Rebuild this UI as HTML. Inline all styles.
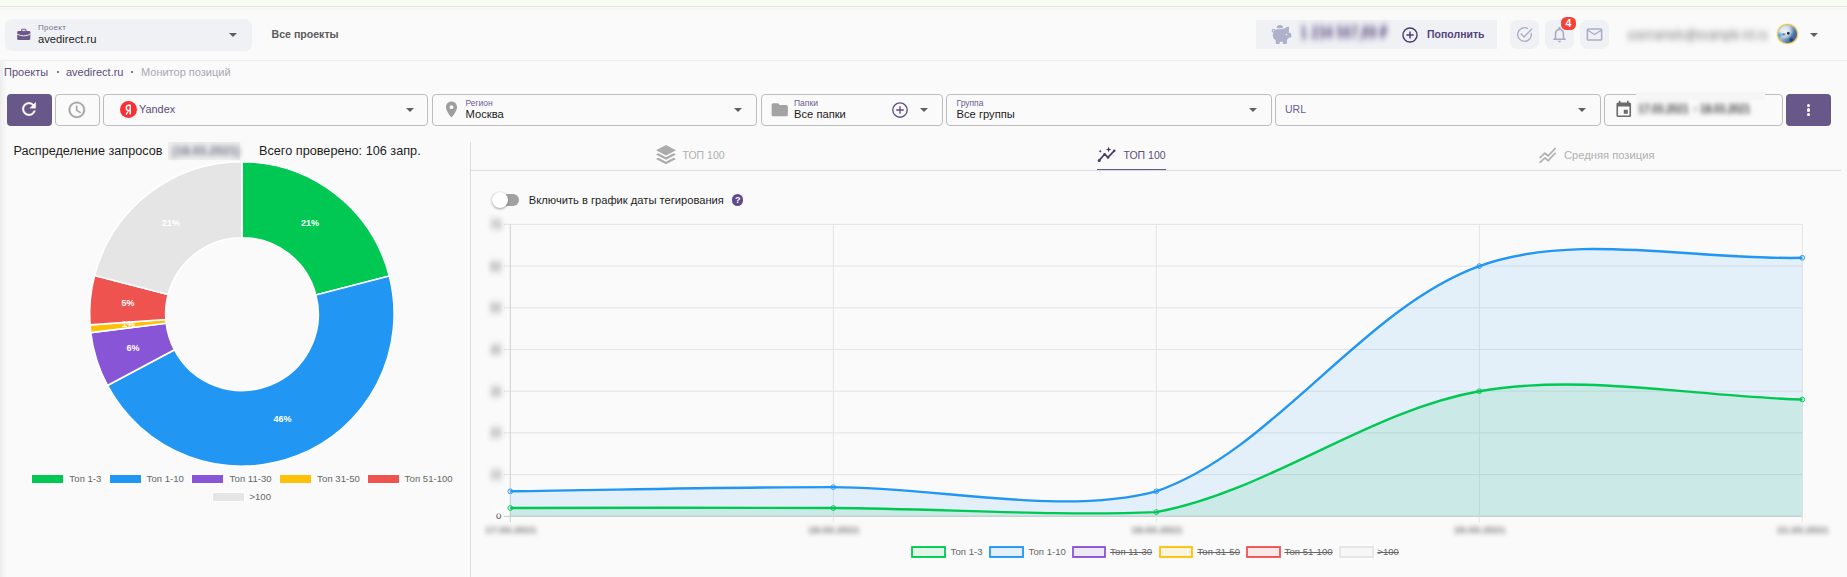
<!DOCTYPE html>
<html lang="ru">
<head>
<meta charset="utf-8">
<title>Монитор позиций</title>
<style>
*{box-sizing:border-box;margin:0;padding:0}
html,body{width:1847px;height:577px;overflow:hidden;background:#fafafa}
body{font-family:"Liberation Sans",sans-serif;color:#222;position:relative}
.abs{position:absolute}
.t{position:absolute;white-space:nowrap;line-height:1}
#strip{left:0;top:0;width:1847px;height:7px;background:#f8fbf1;border-bottom:1px solid #e3e7da}
#stripsh{left:0;top:8px;width:1847px;height:3px;background:linear-gradient(#f3f3f3,#fafafa)}
#leftsh{left:0;top:61px;width:8px;height:516px;background:linear-gradient(90deg,#ececec,#f4f4f4 45%,#fafafa)}
#hdrline{left:0;top:60px;width:1847px;height:1px;background:#eeeeee}
.box{position:absolute;border:1px solid #bdbdbd;border-radius:4px;background:#fafafa}
.pbtn{position:absolute;background:#685889;border-radius:4px}
.soft{position:absolute;background:#f0f1f5}
.lab{font-size:8.5px;color:#6a5a93}
.val{font-size:11.2px;color:#222}
.arrow{position:absolute;width:0;height:0;border-left:4px solid transparent;border-right:4px solid transparent;border-top:4px solid #5f5f5f}
.leg{font-size:9.6px;color:#666}
.strike{text-decoration:line-through}
.pl{font-size:9px;font-weight:bold;color:#fff}
</style>
</head>
<body>
<div id="strip" class="abs"></div>
<div id="stripsh" class="abs"></div>
<div id="leftsh" class="abs"></div>

<!-- HEADER -->
<div class="soft" style="left:5px;top:19px;width:247px;height:32px;border-radius:7px"></div>
<svg class="abs" style="left:17px;top:28px" width="14" height="13" viewBox="0 0 14 13"><path d="M4.700 3.200V2a.7.7 0 0 1 .7-.7h2.800a.7.7 0 0 1 .7.700v1.200" fill="none" stroke="#6a5889" stroke-width="1.100"/><rect x=".2" y="2.900" width="13.100" height="9.100" rx="1.200" fill="#6a5889"/><path d="M.2 6.200Q6.750 9.500 13.300 6.200" fill="none" stroke="#f0f1f5" stroke-width=".950"/></svg>
<div class="t" style="left:38px;top:24px;font-size:8px;color:#77728c;letter-spacing:.3px">Проект</div>
<div class="t val" style="left:38px;top:33.5px">avedirect.ru</div>
<div class="arrow" style="left:229px;top:33px"></div>
<div class="t" style="left:271.5px;top:28.5px;font-size:10.6px;font-weight:bold;color:#5a5a5a">Все проекты</div>

<div class="soft" style="left:1256px;top:20px;width:241px;height:29px"></div>
<div class="soft" style="left:1510px;top:20px;width:29px;height:28.5px;border-radius:7px"></div>
<div class="soft" style="left:1545px;top:20px;width:29px;height:28.5px;border-radius:7px"></div>
<div class="soft" style="left:1580px;top:20px;width:29px;height:28.5px;border-radius:7px"></div>
<div id="hdrline" class="abs"></div>

<!-- BREADCRUMBS -->
<div class="t" style="left:4px;top:66.7px;font-size:11px;color:#5b4d7c">Проекты</div>
<div class="abs" style="left:56.5px;top:71.2px;width:2.3px;height:2.3px;background:#5b4d7c;border-radius:50%"></div>
<div class="t" style="left:66px;top:66.7px;font-size:11px;color:#5b4d7c">avedirect.ru</div>
<div class="abs" style="left:131px;top:71.2px;width:2.3px;height:2.3px;background:#5b4d7c;border-radius:50%"></div>
<div class="t" style="left:141px;top:66.7px;font-size:11px;color:#a9a9b3">Монитор позиций</div>

<!-- FILTER ROW -->
<div class="pbtn" style="left:7px;top:94px;width:45px;height:32px"></div>
<div class="box" style="left:55px;top:94px;width:45px;height:32px"></div>
<div class="box" style="left:103px;top:94px;width:325px;height:32px"></div>
<div class="box" style="left:432px;top:94px;width:325px;height:32px"></div>
<div class="box" style="left:761px;top:94px;width:181.5px;height:32px"></div>
<div class="box" style="left:946px;top:94px;width:326px;height:32px"></div>
<div class="box" style="left:1275px;top:94px;width:326px;height:32px"></div>
<div class="box" style="left:1604px;top:94px;width:178.5px;height:32px"></div>
<div class="pbtn" style="left:1786px;top:94px;width:45px;height:32px"></div>

<!-- filter contents -->
<svg class="abs" style="left:19.1px;top:99.3px" width="20" height="20" viewBox="0 0 24 24"><path d="M17.65 6.35A7.958 7.958 0 0 0 12 4c-4.42 0-7.99 3.58-7.99 8s3.57 8 7.99 8c3.73 0 6.84-2.55 7.73-6h-2.08A5.99 5.99 0 0 1 12 18c-3.31 0-6-2.69-6-6s2.69-6 6-6c1.66 0 3.14.69 4.22 1.78L13 11h7V4l-2.35 2.35z" fill="#fff" stroke="#fff" stroke-width=".4"/></svg>
<svg class="abs" style="left:67.3px;top:99.6px" width="19.7" height="19.7" viewBox="0 0 24 24"><path d="M11.99 2C6.47 2 2 6.48 2 12s4.47 10 9.99 10C17.52 22 22 17.52 22 12S17.52 2 11.99 2zM12 20c-4.42 0-8-3.58-8-8s3.58-8 8-8 8 3.58 8 8-3.58 8-8 8zm.5-13H11v6l5.25 3.15.75-1.23-4.5-2.67z" fill="#a3a3a3" stroke="#a3a3a3" stroke-width=".35"/></svg>

<div class="abs" style="left:120px;top:101px;width:17px;height:17px;border-radius:50%;background:#fb2f31"></div>
<svg class="abs" style="left:120px;top:101px" width="17" height="17" viewBox="0 0 17 17"><path d="M10.2 3.700v9.900M10.200 4.300H8.700a2.400 2.600 0 0 0 0 5.200h1.500M8.500 9.500L6.100 13.600" fill="none" stroke="#fff" stroke-width="1.450"/></svg>
<div class="t" style="left:139px;top:103.5px;font-size:10.9px;color:#5b4d7c">Yandex</div>
<div class="arrow" style="left:405.5px;top:108px"></div>

<svg class="abs" style="left:441.5px;top:100px" width="19" height="19" viewBox="0 0 24 24"><path d="M12 2C8.13 2 5 5.13 5 9c0 5.25 7 13 7 13s7-7.75 7-13c0-3.87-3.13-7-7-7zm0 9.5a2.5 2.5 0 0 1 0-5 2.5 2.5 0 0 1 0 5z" fill="#9e9e9e"/></svg>
<div class="t lab" style="left:465.5px;top:98.5px">Регион</div>
<div class="t val" style="left:465.5px;top:108.5px">Москва</div>
<div class="arrow" style="left:734px;top:108px"></div>

<svg class="abs" style="left:770px;top:100px" width="19.5" height="19.5" viewBox="0 0 24 24"><path d="M10 4H4c-1.1 0-1.99.9-1.99 2L2 18c0 1.1.9 2 2 2h16c1.1 0 2-.9 2-2V8c0-1.1-.9-2-2-2h-8l-2-2z" fill="#a3a3a3"/></svg>
<div class="t lab" style="left:794px;top:98.5px">Папки</div>
<div class="t val" style="left:794px;top:108.8px">Все папки</div>
<svg class="abs" style="left:891px;top:100.5px" width="18" height="18" viewBox="0 0 24 24"><circle cx="12" cy="12" r="9.6" fill="none" stroke="#5f4b8b" stroke-width="1.8"/><path d="M12 7v10M7 12h10" stroke="#5f4b8b" stroke-width="1.8" fill="none"/></svg>
<div class="arrow" style="left:920px;top:108px"></div>

<div class="t lab" style="left:956.5px;top:98.5px">Группа</div>
<div class="t val" style="left:956.5px;top:108.8px">Все группы</div>
<div class="arrow" style="left:1248.5px;top:108px"></div>

<div class="t" style="left:1285px;top:103.5px;font-size:10.5px;color:#6a5a93">URL</div>
<div class="arrow" style="left:1577.5px;top:108px"></div>

<svg class="abs" style="left:1613.5px;top:99.5px" width="19.5" height="19.5" viewBox="0 0 24 24"><path d="M17 12h-5v5h5v-5zM16 1v2H8V1H6v2H5c-1.11 0-1.99.9-1.99 2L3 19a2 2 0 0 0 2 2h14c1.1 0 2-.9 2-2V5c0-1.1-.9-2-2-2h-1V1h-2zm3 18H5V8h14v11z" fill="#6b6b6b"/></svg>
<div class="abs" style="left:1636px;top:92px;width:129px;height:8px;background:#f6f6f6"></div>
<div class="t" style="left:1638px;top:102.5px;font-size:10.8px;font-weight:bold;color:#4a4a4a;filter:blur(2.2px);letter-spacing:-.35px;transform:scaleY(1.25)">17.03.2021&nbsp; - 18.03.2021</div>

<div class="abs" style="left:1807px;top:103.5px;width:3.4px;height:3.4px;border-radius:50%;background:#fff"></div>
<div class="abs" style="left:1807px;top:108.2px;width:3.4px;height:3.4px;border-radius:50%;background:#fff"></div>
<div class="abs" style="left:1807px;top:112.9px;width:3.4px;height:3.4px;border-radius:50%;background:#fff"></div>

<!-- header right contents -->
<svg class="abs" style="left:1270px;top:23px" width="24" height="24" viewBox="0 0 24 24"><g fill="#adb1c9"><ellipse cx="11" cy="11.900" rx="8.300" ry="7"/><rect x="16" y="9.800" width="5.300" height="5" rx="1.600"/><path d="M15 5.400L18.500 4 18.400 9z" stroke="#adb1c9" stroke-width="1" stroke-linejoin="round"/><rect x="5.700" y="15" width="4.100" height="5.900" rx="1"/><rect x="12.800" y="15" width="4.200" height="5.900" rx="1"/><path d="M6.600 5.100a3.200 3.100 0 0 1 6.400 0z"/></g><circle cx="3.500" cy="7.700" r="1.300" fill="none" stroke="#adb1c9" stroke-width="1.100"/><path d="M6.300 5.700H13.300" stroke="#eceef3" stroke-width=".9"/><circle cx="16.500" cy="11.500" r=".850" fill="#f4f2e6"/></svg>
<div class="t" style="left:1300px;top:26px;font-size:13.3px;font-weight:bold;color:#54467a;filter:blur(2.9px);letter-spacing:-.1px;transform:scaleY(1.25)">1 234 567,89 ₽</div>
<svg class="abs" style="left:1401px;top:25.5px" width="18" height="18" viewBox="0 0 24 24"><circle cx="12" cy="12" r="9.4" fill="none" stroke="#4b3a73" stroke-width="1.9"/><path d="M12 7.2v9.6M7.2 12h9.6" stroke="#4b3a73" stroke-width="1.9" fill="none"/></svg>
<div class="t" style="left:1427px;top:29px;font-size:10.5px;font-weight:bold;color:#54437b">Пополнить</div>

<svg class="abs" style="left:1515px;top:25px" width="19" height="19" viewBox="0 0 24 24"><path d="M20.5 10.5A8.6 8.6 0 1 1 15.8 4.3" fill="none" stroke="#a9aec6" stroke-width="1.7" stroke-linecap="round"/><path d="M7.8 11.5l3.7 3.7L21 5.2" fill="none" stroke="#a9aec6" stroke-width="1.8" stroke-linecap="round" stroke-linejoin="round"/></svg>
<svg class="abs" style="left:1550px;top:25px" width="19" height="19" viewBox="0 0 24 24"><path d="M12 22c1.1 0 2-.9 2-2h-4c0 1.1.9 2 2 2zm6-6v-5c0-3.07-1.63-5.64-4.5-6.32V4c0-.83-.67-1.5-1.5-1.5s-1.5.67-1.5 1.5v.68C7.64 5.36 6 7.92 6 11v5l-2 2v1h16v-1l-2-2zm-2 1H8v-6c0-2.48 1.51-4.5 4-4.5s4 2.02 4 4.5v6z" fill="#a9aec6"/></svg>
<svg class="abs" style="left:1585px;top:25px" width="19" height="19" viewBox="0 0 24 24"><path d="M20 4H4c-1.1 0-1.99.9-1.99 2L2 18c0 1.1.9 2 2 2h16c1.1 0 2-.9 2-2V6c0-1.1-.9-2-2-2zm0 14H4V8l8 5 8-5v10zm-8-7L4 6h16l-8 5z" fill="#a9aec6"/></svg>
<div class="abs" style="left:1561px;top:17px;width:15px;height:12.8px;border-radius:5.5px;background:#f44336"></div>
<div class="t" style="left:1565.4px;top:18.2px;font-size:10.5px;font-weight:bold;color:#fff">4</div>
<div class="t" style="left:1627px;top:29px;font-size:11.2px;color:#686868;filter:blur(2.9px);transform:scaleY(1.2)">usernamelo@example-ml.ru</div>
<div class="abs" style="left:1777.4px;top:24.2px;width:20.4px;height:20.2px;border-radius:50%;border:1.2px solid #e3c04a;box-shadow:0 0 1.6px #e8c74f;background:radial-gradient(circle at 54% 46%,#1d2c44 0,#1d2c44 6%,transparent 13%),radial-gradient(ellipse at 30% 52%,rgba(40,60,90,.75) 0,transparent 14%),radial-gradient(circle at 70% 82%,rgba(20,35,60,.8) 0,transparent 14%),radial-gradient(circle at 6% 58%,#3aa2e2 0,transparent 20%),radial-gradient(ellipse at 36% 36%,#eef2f6 0,rgba(230,236,243,.9) 22%,transparent 50%),linear-gradient(125deg,#cbd8e6 0%,#a9c0da 38%,#4d78ad 68%,#2c4d7e 100%)"></div>
<div class="arrow" style="left:1810px;top:32.5px"></div>

<!-- PIE PANEL -->
<div class="t" style="left:13.5px;top:144.5px;font-size:12.65px;color:#1e1e1e">Распределение запросов</div>
<div class="abs" style="left:167.5px;top:142px;width:72.5px;height:17.5px;background:#eeeeee"></div>
<div class="t" style="left:172px;top:145px;font-size:12px;font-weight:bold;color:#6d7080;filter:blur(2.4px)">(18.03.2021)</div>
<div class="t" style="left:259px;top:144.5px;font-size:12.7px;color:#1e1e1e">Всего проверено: 106 запр.</div>
<svg class="abs" style="left:0;top:0" width="470" height="577" viewBox="0 0 470 577">
<path d="M241.9,161.7 A152.3,152.3 0 0 1 389.3,275.9 L315.8,294.9 A76.3,76.3 0 0 0 241.9,237.7Z" fill="#00c853" stroke="#fff" stroke-width="1.6" stroke-linejoin="round"/>
<path d="M389.3,275.9 A152.3,152.3 0 0 1 107.4,385.5 L174.5,349.8 A76.3,76.3 0 0 0 315.8,294.9Z" fill="#2196f3" stroke="#fff" stroke-width="1.6" stroke-linejoin="round"/>
<path d="M107.4,385.5 A152.3,152.3 0 0 1 90.7,332.6 L166.2,323.3 A76.3,76.3 0 0 0 174.5,349.8Z" fill="#8855d6" stroke="#fff" stroke-width="1.6" stroke-linejoin="round"/>
<path d="M90.7,332.6 A152.3,152.3 0 0 1 90.0,324.9 L165.8,319.5 A76.3,76.3 0 0 0 166.2,323.3Z" fill="#ffc107" stroke="#fff" stroke-width="1.6" stroke-linejoin="round"/>
<path d="M90.0,324.9 A152.3,152.3 0 0 1 94.6,275.4 L168.1,294.6 A76.3,76.3 0 0 0 165.8,319.5Z" fill="#ef5350" stroke="#fff" stroke-width="1.6" stroke-linejoin="round"/>
<path d="M94.6,275.4 A152.3,152.3 0 0 1 241.9,161.7 L241.9,237.7 A76.3,76.3 0 0 0 168.1,294.6Z" fill="#e5e5e5" stroke="#fff" stroke-width="1.6" stroke-linejoin="round"/>
</svg>
<div class="t pl" style="left:301px;top:218.8px">21%</div>
<div class="t pl" style="left:162px;top:218.8px">21%</div>
<div class="t pl" style="left:121.5px;top:298.8px">5%</div>
<div class="t pl" style="left:122px;top:319.8px">1%</div>
<div class="t pl" style="left:126.5px;top:343.8px">6%</div>
<div class="t pl" style="left:273.5px;top:415.3px">46%</div>
<div class="abs" style="left:32.1px;top:475.3px;width:31px;height:8px;background:#00c853;box-shadow:0 0 0 .8px #fff"></div>
<div class="t leg" style="left:69.2px;top:474.2px">Топ 1-3</div>
<div class="abs" style="left:109.9px;top:475.3px;width:31px;height:8px;background:#2196f3;box-shadow:0 0 0 .8px #fff"></div>
<div class="t leg" style="left:146.4px;top:474.2px">Топ 1-10</div>
<div class="abs" style="left:192.4px;top:475.3px;width:31px;height:8px;background:#8855d6;box-shadow:0 0 0 .8px #fff"></div>
<div class="t leg" style="left:229.5px;top:474.2px">Топ 11-30</div>
<div class="abs" style="left:279.8px;top:475.3px;width:31px;height:8px;background:#ffc107;box-shadow:0 0 0 .8px #fff"></div>
<div class="t leg" style="left:317px;top:474.2px">Топ 31-50</div>
<div class="abs" style="left:367.7px;top:475.3px;width:31px;height:8px;background:#ef5350;box-shadow:0 0 0 .8px #fff"></div>
<div class="t leg" style="left:404.5px;top:474.2px">Топ 51-100</div>
<div class="abs" style="left:213.3px;top:493px;width:31px;height:8px;background:#e5e5e5;box-shadow:0 0 0 .8px #fff"></div>
<div class="t leg" style="left:249.4px;top:492px">&gt;100</div>

<!-- CHART PANEL -->
<div class="abs" style="left:470px;top:142px;width:1px;height:435px;background:#dddddd"></div>
<div class="abs" style="left:471px;top:170px;width:1370px;height:1px;background:#dcdcdc"></div>
<div class="abs" style="left:1097px;top:168.8px;width:69px;height:1.6px;background:#685889"></div>

<svg class="abs" style="left:656.2px;top:145px" width="20" height="20" viewBox="0 0 20 20"><path d="M10 0L20 5.2 10 10.4 0 5.2z" fill="#ababab"/><path d="M0 9.500L2.300 8.300 10 12.300 17.700 8.300 20 9.500 10 14.800z" fill="#ababab"/><path d="M0 14L2.300 12.800 10 16.800 17.700 12.800 20 14 10 19.300z" fill="#ababab"/></svg>
<div class="t" style="left:682.5px;top:150px;font-size:10.5px;color:#b0b0b0">ТОП 100</div>

<svg class="abs" style="left:1096.5px;top:146px" width="20" height="18" viewBox="0 0 20 18"><path d="M2 14.6L7.6 8.2l3.4 3.2 6.2-6.6" fill="none" stroke="#4b3a73" stroke-width="1.7" stroke-linejoin="round" stroke-linecap="round"/><circle cx="2.2" cy="14.6" r="1.5" fill="#4b3a73"/><circle cx="7.6" cy="8.2" r="1.3" fill="#4b3a73"/><circle cx="11" cy="11.4" r="1.3" fill="#4b3a73"/><circle cx="17.2" cy="4.8" r="1.3" fill="#4b3a73"/><path d="M11.6 0.8l.8 1.9 1.9.8-1.9.8-.8 1.9-.8-1.9-1.9-.8 1.9-.8z" fill="#4b3a73"/><path d="M3.2 3.6l.5 1.1 1.1.5-1.1.5-.5 1.1-.5-1.1-1.1-.5 1.1-.5z" fill="#4b3a73"/></svg>
<div class="t" style="left:1123.5px;top:150px;font-size:10.5px;color:#5b4d7c">ТОП 100</div>

<svg class="abs" style="left:1538.5px;top:147px" width="18" height="17" viewBox="0 0 18 17"><path d="M1.2 10.6l4.6-4.4 3.4 2.6 6.8-7.2" fill="none" stroke="#b0b0b0" stroke-width="1.7" stroke-linejoin="round" stroke-linecap="square"/><path d="M1.2 15.4l4.6-4.4 3.4 2.6 6.8-7.2" fill="none" stroke="#b0b0b0" stroke-width="1.7" stroke-linejoin="round" stroke-linecap="square"/></svg>
<div class="t" style="left:1564px;top:150px;font-size:11.2px;color:#b0b0b0">Средняя позиция</div>

<div class="abs" style="left:498px;top:194.3px;width:21px;height:11.4px;border-radius:6px;background:#a2a2a2"></div>
<div class="abs" style="left:492px;top:192.2px;width:15.6px;height:15.6px;border-radius:50%;background:#fff;box-shadow:0 1px 2.5px rgba(0,0,0,.35),0 0 1px rgba(0,0,0,.2)"></div>
<div class="t" style="left:528.8px;top:194.5px;font-size:11.17px;color:#1e1e1e">Включить в график даты тегирования</div>
<div class="abs" style="left:731.7px;top:194.3px;width:11.4px;height:11.4px;border-radius:50%;background:#5f4b8b"></div>
<div class="t" style="left:734.9px;top:195.8px;font-size:9px;font-weight:bold;color:#fff">?</div>

<svg class="abs" style="left:0;top:0" width="1847" height="577" viewBox="0 0 1847 577">
<line x1="504" y1="224.4" x2="1802.3" y2="224.4" stroke="#e4e4e4" stroke-width="1"/>
<line x1="504" y1="266.1" x2="1802.3" y2="266.1" stroke="#e4e4e4" stroke-width="1"/>
<line x1="504" y1="307.8" x2="1802.3" y2="307.8" stroke="#e4e4e4" stroke-width="1"/>
<line x1="504" y1="349.5" x2="1802.3" y2="349.5" stroke="#e4e4e4" stroke-width="1"/>
<line x1="504" y1="391.2" x2="1802.3" y2="391.2" stroke="#e4e4e4" stroke-width="1"/>
<line x1="504" y1="432.9" x2="1802.3" y2="432.9" stroke="#e4e4e4" stroke-width="1"/>
<line x1="504" y1="474.6" x2="1802.3" y2="474.6" stroke="#e4e4e4" stroke-width="1"/>
<line x1="504" y1="516.3" x2="1802.3" y2="516.3" stroke="#c9c9c9" stroke-width="1"/>
<line x1="510.3" y1="224.4" x2="510.3" y2="522.3" stroke="#cfcfcf" stroke-width="1"/>
<line x1="833.3" y1="224.4" x2="833.3" y2="522.3" stroke="#e4e4e4" stroke-width="1"/>
<line x1="1156.3" y1="224.4" x2="1156.3" y2="522.3" stroke="#e4e4e4" stroke-width="1"/>
<line x1="1479.3" y1="224.4" x2="1479.3" y2="522.3" stroke="#e4e4e4" stroke-width="1"/>
<line x1="1802.3" y1="224.4" x2="1802.3" y2="522.3" stroke="#e4e4e4" stroke-width="1"/>
<path d="M510.3,491.3 C616.9,489.9 726.7,487.1 833.3,487.1 C939.9,487.1 1060.2,516.3 1156.3,491.3 C1273.4,451.2 1362.2,308.4 1479.3,266.1 C1575.4,231.4 1695.7,260.5 1802.3,257.8 L1802.3,516.3 L510.3,516.3 Z" fill="rgba(33,150,243,0.1)"/>
<path d="M510.3,508 C616.9,508 726.7,507.3 833.3,508 C939.9,508.6 1053.2,516.3 1156.3,512.1 C1266.4,492.2 1369.2,410.4 1479.3,391.2 C1582.4,373.2 1695.7,396.8 1802.3,399.5 L1802.3,516.3 L510.3,516.3 Z" fill="rgba(0,200,83,0.1)"/>
<path d="M510.3,491.3 C616.9,489.9 726.7,487.1 833.3,487.1 C939.9,487.1 1060.2,516.3 1156.3,491.3 C1273.4,451.2 1362.2,308.4 1479.3,266.1 C1575.4,231.4 1695.7,260.5 1802.3,257.8" fill="none" stroke="#2196f3" stroke-width="2.4" stroke-linecap="butt"/>
<path d="M510.3,508 C616.9,508 726.7,507.3 833.3,508 C939.9,508.6 1053.2,516.3 1156.3,512.1 C1266.4,492.2 1369.2,410.4 1479.3,391.2 C1582.4,373.2 1695.7,396.8 1802.3,399.5" fill="none" stroke="#00c853" stroke-width="2.4" stroke-linecap="butt"/>
<circle cx="510.3" cy="491.3" r="2.4" fill="rgba(33,150,243,.12)" stroke="#2196f3" stroke-width="0.9"/>
<circle cx="833.3" cy="487.1" r="2.4" fill="rgba(33,150,243,.12)" stroke="#2196f3" stroke-width="0.9"/>
<circle cx="1156.3" cy="491.3" r="2.4" fill="rgba(33,150,243,.12)" stroke="#2196f3" stroke-width="0.9"/>
<circle cx="1479.3" cy="266.1" r="2.4" fill="rgba(33,150,243,.12)" stroke="#2196f3" stroke-width="0.9"/>
<circle cx="1802.3" cy="257.8" r="2.4" fill="rgba(33,150,243,.12)" stroke="#2196f3" stroke-width="0.9"/>
<circle cx="510.3" cy="508" r="2.4" fill="rgba(0,200,83,.12)" stroke="#00c853" stroke-width="0.9"/>
<circle cx="833.3" cy="508" r="2.4" fill="rgba(0,200,83,.12)" stroke="#00c853" stroke-width="0.9"/>
<circle cx="1156.3" cy="512.1" r="2.4" fill="rgba(0,200,83,.12)" stroke="#00c853" stroke-width="0.9"/>
<circle cx="1479.3" cy="391.2" r="2.4" fill="rgba(0,200,83,.12)" stroke="#00c853" stroke-width="0.9"/>
<circle cx="1802.3" cy="399.5" r="2.4" fill="rgba(0,200,83,.12)" stroke="#00c853" stroke-width="0.9"/>
</svg>
<div class="t" style="left:490px;top:218.8px;font-size:10.5px;font-weight:bold;color:#8e8e8e;filter:blur(2.9px);transform:scaleY(1.2)">70</div>
<div class="t" style="left:490px;top:260.5px;font-size:10.5px;font-weight:bold;color:#8e8e8e;filter:blur(2.9px);transform:scaleY(1.2)">60</div>
<div class="t" style="left:490px;top:302.2px;font-size:10.5px;font-weight:bold;color:#8e8e8e;filter:blur(2.9px);transform:scaleY(1.2)">50</div>
<div class="t" style="left:490px;top:343.9px;font-size:10.5px;font-weight:bold;color:#8e8e8e;filter:blur(2.9px);transform:scaleY(1.2)">40</div>
<div class="t" style="left:490px;top:385.6px;font-size:10.5px;font-weight:bold;color:#8e8e8e;filter:blur(2.9px);transform:scaleY(1.2)">30</div>
<div class="t" style="left:490px;top:427.3px;font-size:10.5px;font-weight:bold;color:#8e8e8e;filter:blur(2.9px);transform:scaleY(1.2)">20</div>
<div class="t" style="left:490px;top:469px;font-size:10.5px;font-weight:bold;color:#8e8e8e;filter:blur(2.9px);transform:scaleY(1.2)">10</div>
<div class="t" style="left:496px;top:510.8px;font-size:9.6px;color:#444">0</div>
<div class="abs" style="left:490px;top:505px;width:13.5px;height:8.8px;background:#fbfbfb;filter:blur(.8px)"></div>
<div class="t" style="left:485.5px;top:525px;font-size:9.6px;font-weight:bold;color:#666;filter:blur(2.6px);letter-spacing:.3px">17.03.2021</div>
<div class="t" style="left:808.5px;top:525px;font-size:9.6px;font-weight:bold;color:#666;filter:blur(2.6px);letter-spacing:.3px">18.03.2021</div>
<div class="t" style="left:1131.5px;top:525px;font-size:9.6px;font-weight:bold;color:#666;filter:blur(2.6px);letter-spacing:.3px">19.03.2021</div>
<div class="t" style="left:1454.5px;top:525px;font-size:9.6px;font-weight:bold;color:#666;filter:blur(2.6px);letter-spacing:.3px">20.03.2021</div>
<div class="t" style="left:1777.5px;top:525px;font-size:9.6px;font-weight:bold;color:#666;filter:blur(2.6px);letter-spacing:.3px">21.03.2021</div>
<div class="abs" style="left:912.4px;top:546.8px;width:32.8px;height:10.2px;background:rgba(0,200,83,.1);box-shadow:0 0 0 .9px #00c853, inset 0 0 0 .9px #00c853"></div>
<div class="t leg" style="left:950.4px;top:547px">Топ 1-3</div>
<div class="abs" style="left:990.3px;top:546.8px;width:32.8px;height:10.2px;background:rgba(33,150,243,.1);box-shadow:0 0 0 .9px #2196f3, inset 0 0 0 .9px #2196f3"></div>
<div class="t leg" style="left:1028.4px;top:547px">Топ 1-10</div>
<div class="abs" style="left:1072.6px;top:546.8px;width:32.8px;height:10.2px;background:rgba(136,85,214,.1);box-shadow:0 0 0 .9px #8855d6, inset 0 0 0 .9px #8855d6"></div>
<div class="t leg strike" style="left:1110px;top:547px">Топ 11-30</div>
<div class="abs" style="left:1159.5px;top:546.8px;width:32.8px;height:10.2px;background:rgba(255,193,7,.1);box-shadow:0 0 0 .9px #ffc107, inset 0 0 0 .9px #ffc107"></div>
<div class="t leg strike" style="left:1197.2px;top:547px">Топ 31-50</div>
<div class="abs" style="left:1247.3px;top:546.8px;width:32.8px;height:10.2px;background:rgba(239,83,80,.1);box-shadow:0 0 0 .9px #ef5350, inset 0 0 0 .9px #ef5350"></div>
<div class="t leg strike" style="left:1284.4px;top:547px">Топ 51-100</div>
<div class="abs" style="left:1340.2px;top:546.8px;width:32.8px;height:10.2px;background:rgba(229,229,229,.1);box-shadow:0 0 0 .9px #e5e5e5, inset 0 0 0 .9px #e5e5e5"></div>
<div class="t leg strike" style="left:1377.3px;top:547px">&gt;100</div>

</body>
</html>
